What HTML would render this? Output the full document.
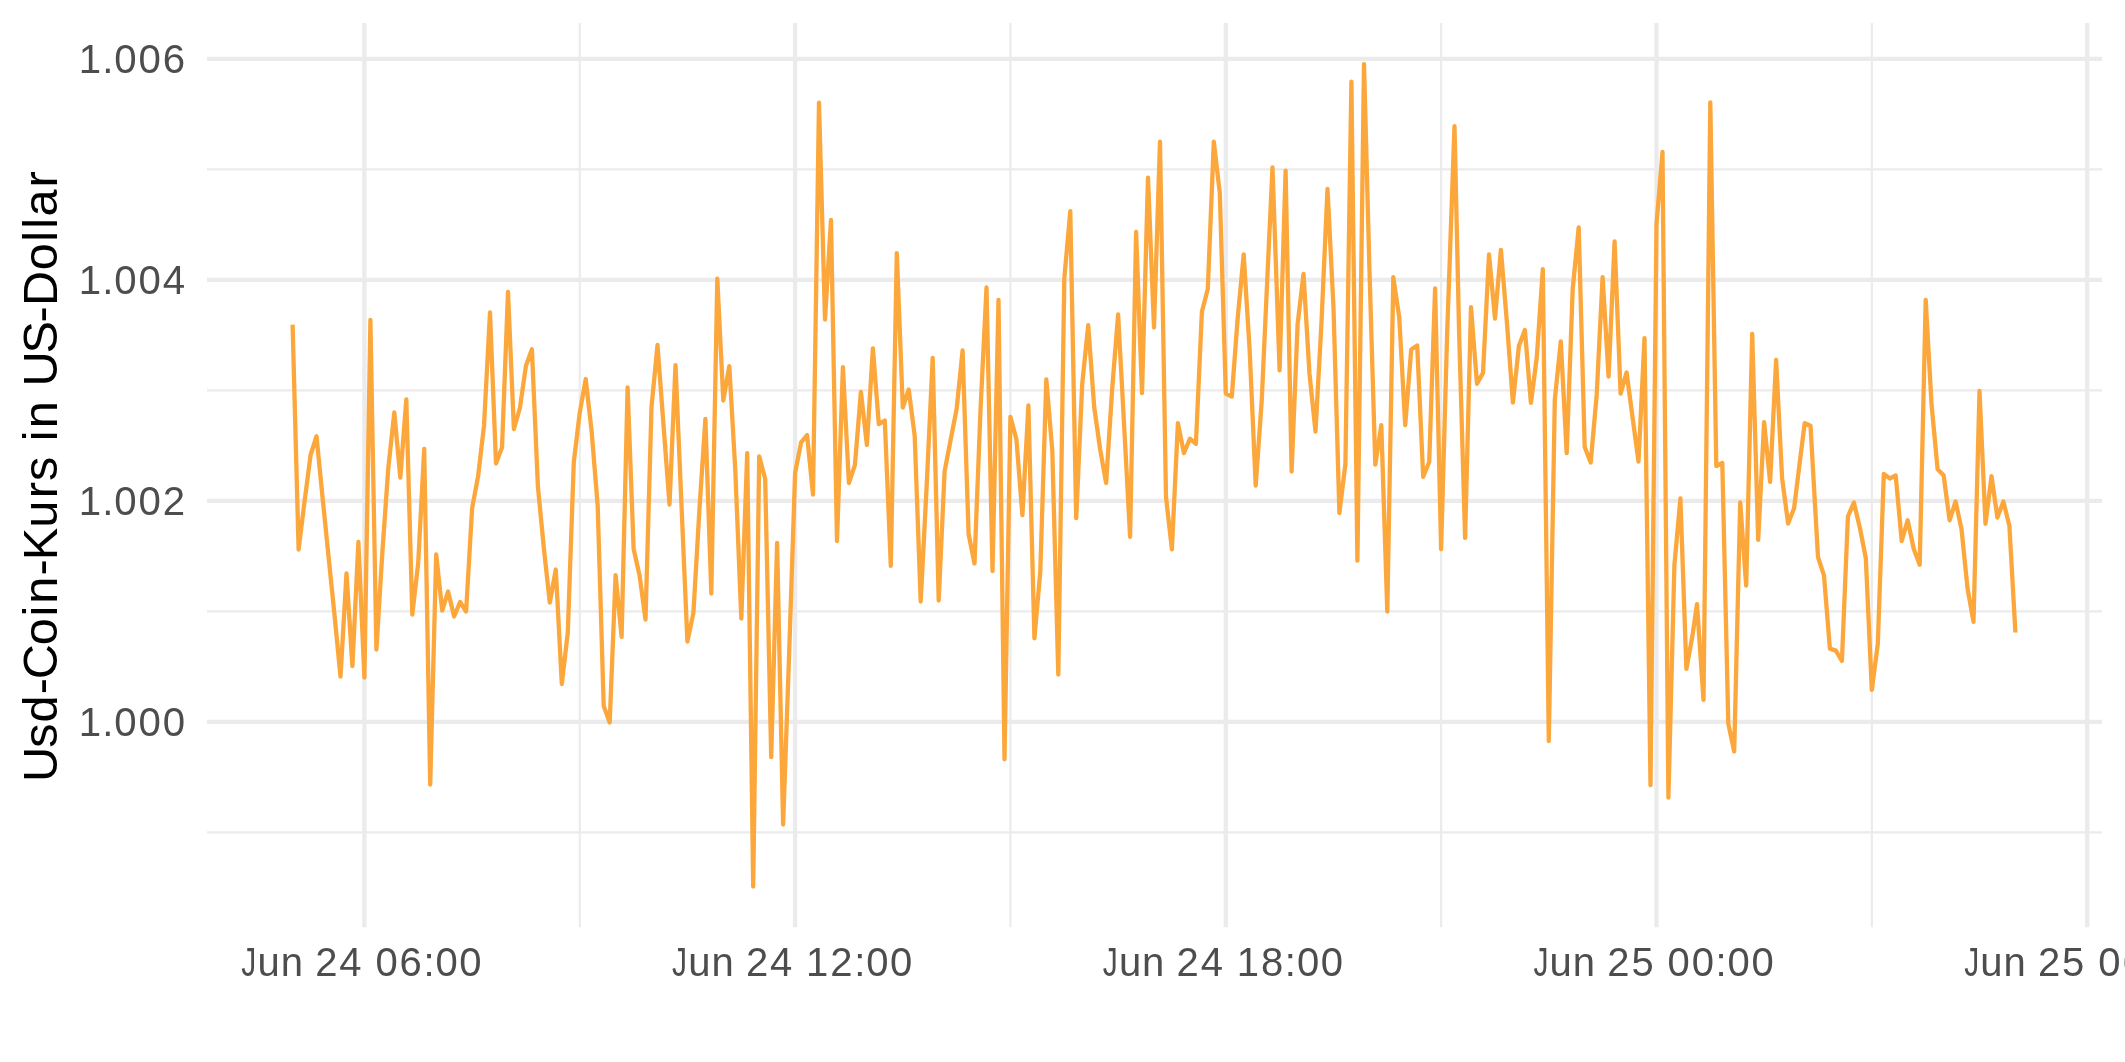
<!DOCTYPE html>
<html><head><meta charset="utf-8"><style>
html,body{margin:0;padding:0;background:#fff;width:2125px;height:1062px;overflow:hidden}
svg{position:absolute;left:0;top:0;font-family:"Liberation Sans",sans-serif}
#txt{will-change:transform}
</style></head><body>
<svg width="2125" height="1062" viewBox="0 0 2125 1062">
<rect width="2125" height="1062" fill="#fff"/>
<line x1="207.0" y1="169.4" x2="2102.0" y2="169.4" stroke="#EBEBEB" stroke-width="2.15"/>
<line x1="207.0" y1="390.4" x2="2102.0" y2="390.4" stroke="#EBEBEB" stroke-width="2.15"/>
<line x1="207.0" y1="611.4" x2="2102.0" y2="611.4" stroke="#EBEBEB" stroke-width="2.15"/>
<line x1="207.0" y1="832.4" x2="2102.0" y2="832.4" stroke="#EBEBEB" stroke-width="2.15"/>
<line x1="579.75" y1="22.9" x2="579.75" y2="927.3" stroke="#EBEBEB" stroke-width="2.15"/>
<line x1="1010.45" y1="22.9" x2="1010.45" y2="927.3" stroke="#EBEBEB" stroke-width="2.15"/>
<line x1="1441.15" y1="22.9" x2="1441.15" y2="927.3" stroke="#EBEBEB" stroke-width="2.15"/>
<line x1="1871.85" y1="22.9" x2="1871.85" y2="927.3" stroke="#EBEBEB" stroke-width="2.15"/>
<line x1="207.0" y1="58.9" x2="2102.0" y2="58.9" stroke="#EBEBEB" stroke-width="4.3"/>
<line x1="207.0" y1="279.9" x2="2102.0" y2="279.9" stroke="#EBEBEB" stroke-width="4.3"/>
<line x1="207.0" y1="500.9" x2="2102.0" y2="500.9" stroke="#EBEBEB" stroke-width="4.3"/>
<line x1="207.0" y1="721.9" x2="2102.0" y2="721.9" stroke="#EBEBEB" stroke-width="4.3"/>
<line x1="364.4" y1="22.9" x2="364.4" y2="927.3" stroke="#EBEBEB" stroke-width="4.3"/>
<line x1="795.1" y1="22.9" x2="795.1" y2="927.3" stroke="#EBEBEB" stroke-width="4.3"/>
<line x1="1225.8" y1="22.9" x2="1225.8" y2="927.3" stroke="#EBEBEB" stroke-width="4.3"/>
<line x1="1656.5" y1="22.9" x2="1656.5" y2="927.3" stroke="#EBEBEB" stroke-width="4.3"/>
<line x1="2087.2" y1="22.9" x2="2087.2" y2="927.3" stroke="#EBEBEB" stroke-width="4.3"/>
<polyline points="292.6,324.6 298.6,549.5 304.6,501.0 310.6,455.0 316.5,436.2 322.5,497.0 328.5,556.0 334.5,615.0 340.5,676.5 346.5,573.5 352.4,666.0 358.4,542.0 364.4,677.5 370.4,320.0 376.4,649.5 382.3,553.0 388.3,468.0 394.3,412.5 400.3,477.5 406.3,399.5 412.3,614.5 418.2,563.0 424.2,449.0 430.2,784.5 436.2,554.5 442.2,610.5 448.1,591.5 454.1,616.5 460.1,602.0 466.1,611.5 472.1,508.3 478.1,476.2 484.0,425.7 490.0,312.5 496.0,463.5 502.0,447.5 508.0,292.0 513.9,429.0 519.9,408.0 525.9,366.0 531.9,349.2 537.9,486.6 543.9,548.7 549.8,602.5 555.8,569.5 561.8,684.0 567.8,632.6 573.8,462.0 579.7,413.0 585.7,379.0 591.7,432.0 597.7,506.0 603.7,706.0 609.7,722.5 615.6,575.1 621.6,636.9 627.6,387.5 633.6,548.7 639.6,575.7 645.5,619.5 651.5,407.0 657.5,345.0 663.5,425.0 669.5,504.5 675.5,365.1 681.4,503.0 687.4,641.5 693.4,612.9 699.4,510.0 705.4,419.0 711.3,593.5 717.3,278.7 723.3,400.5 729.3,366.2 735.3,470.0 741.3,618.5 747.2,453.2 753.2,886.5 759.2,456.3 765.2,479.0 771.2,757.2 777.1,543.0 783.1,824.5 789.1,655.0 795.1,473.0 801.1,442.3 807.1,435.1 813.0,494.5 819.0,102.7 825.0,319.5 831.0,220.0 837.0,541.0 842.9,367.2 848.9,483.0 854.9,465.1 860.9,392.0 866.9,444.9 872.9,348.5 878.8,424.2 884.8,420.5 890.8,565.8 896.8,253.1 902.8,407.5 908.7,389.5 914.7,436.1 920.7,601.5 926.7,485.0 932.7,357.9 938.7,600.5 944.6,471.3 950.6,440.0 956.6,409.2 962.6,350.5 968.6,534.0 974.5,563.5 980.5,410.0 986.5,287.5 992.5,571.0 998.5,299.9 1004.5,759.3 1010.4,416.9 1016.4,439.2 1022.4,515.1 1028.4,405.5 1034.4,638.3 1040.3,571.5 1046.3,379.5 1052.3,450.6 1058.3,674.5 1064.3,278.6 1070.3,211.1 1076.2,518.2 1082.2,384.3 1088.2,325.1 1094.2,407.1 1100.2,449.6 1106.1,483.0 1112.1,390.0 1118.1,314.5 1124.1,425.0 1130.1,536.8 1136.1,232.0 1142.0,393.1 1148.0,177.7 1154.0,327.5 1160.0,141.7 1166.0,497.0 1171.9,549.3 1177.9,423.1 1183.9,453.2 1189.9,438.7 1195.9,443.8 1201.9,311.8 1207.8,289.0 1213.8,141.7 1219.8,193.0 1225.8,393.5 1231.8,396.5 1237.7,318.0 1243.7,254.5 1249.7,351.2 1255.7,485.7 1261.7,401.0 1267.7,270.0 1272.5,167.5 1279.6,370.3 1285.6,170.7 1291.6,471.5 1297.6,324.2 1303.5,274.0 1309.5,374.0 1315.5,431.5 1321.5,322.2 1327.5,188.9 1333.5,307.6 1339.4,513.0 1345.4,464.0 1351.4,81.6 1357.4,560.7 1364.0,64.1 1369.3,264.0 1375.3,464.6 1381.3,425.2 1387.3,611.5 1393.3,277.1 1399.3,318.0 1405.2,425.2 1411.2,349.5 1417.2,345.5 1423.2,476.8 1429.2,462.0 1435.1,288.5 1441.1,549.3 1447.1,335.0 1454.5,126.1 1459.1,332.0 1465.1,537.9 1471.0,307.1 1477.0,383.8 1483.0,372.9 1489.0,254.5 1495.0,318.5 1500.9,249.8 1506.9,322.2 1512.9,402.5 1518.9,346.0 1524.9,329.9 1530.9,402.9 1536.8,357.4 1542.8,269.1 1548.8,741.0 1554.8,399.8 1560.8,341.3 1566.7,453.2 1572.7,289.0 1578.7,227.5 1584.7,447.0 1590.7,462.5 1596.7,394.7 1602.6,277.1 1608.6,376.5 1614.6,241.5 1620.6,393.7 1626.6,372.4 1632.5,417.0 1638.5,461.5 1644.5,338.2 1650.5,785.2 1656.5,224.0 1662.5,152.0 1668.4,797.7 1674.4,565.3 1680.4,498.5 1686.4,668.8 1692.4,636.0 1697.0,604.1 1703.5,699.9 1710.3,102.3 1716.3,466.0 1722.3,463.0 1728.3,723.6 1734.2,751.5 1740.2,502.5 1746.2,585.5 1752.2,334.0 1758.2,539.9 1764.1,422.1 1770.1,481.9 1776.1,359.9 1782.1,478.3 1788.1,523.5 1794.1,508.3 1799.3,466.0 1804.7,423.1 1810.5,425.7 1818.0,557.0 1824.0,575.7 1829.9,648.6 1835.9,650.6 1841.9,661.0 1847.9,516.6 1853.9,502.5 1859.9,528.0 1865.8,558.0 1871.8,689.9 1877.8,644.0 1883.8,474.0 1889.8,478.5 1895.7,475.5 1901.7,541.0 1907.7,520.2 1913.7,548.7 1919.7,564.8 1925.7,299.9 1931.6,405.0 1937.6,469.2 1943.6,475.3 1949.6,520.3 1955.6,501.5 1961.5,529.0 1967.5,588.1 1973.5,622.0 1979.5,391.0 1985.5,523.8 1991.5,476.2 1997.4,517.5 2003.4,501.5 2009.4,526.0 2015.4,632.5" fill="none" stroke="#FCA73B" stroke-width="4.3" stroke-linejoin="round" stroke-linecap="butt"/>
</svg>
<svg id="txt" width="2125" height="1062" viewBox="0 0 2125 1062">
<text x="89.90" y="72.50" text-anchor="middle" font-size="40.2" fill="#4D4D4D">1</text>
<text x="107.90" y="72.50" text-anchor="middle" font-size="40.2" fill="#4D4D4D">.</text>
<text x="125.50" y="72.50" text-anchor="middle" font-size="40.2" fill="#4D4D4D">0</text>
<text x="149.60" y="72.50" text-anchor="middle" font-size="40.2" fill="#4D4D4D">0</text>
<text x="173.90" y="72.50" text-anchor="middle" font-size="40.2" fill="#4D4D4D">6</text>
<text x="89.90" y="293.50" text-anchor="middle" font-size="40.2" fill="#4D4D4D">1</text>
<text x="107.90" y="293.50" text-anchor="middle" font-size="40.2" fill="#4D4D4D">.</text>
<text x="125.50" y="293.50" text-anchor="middle" font-size="40.2" fill="#4D4D4D">0</text>
<text x="149.60" y="293.50" text-anchor="middle" font-size="40.2" fill="#4D4D4D">0</text>
<text x="173.90" y="293.50" text-anchor="middle" font-size="40.2" fill="#4D4D4D">4</text>
<text x="89.90" y="514.50" text-anchor="middle" font-size="40.2" fill="#4D4D4D">1</text>
<text x="107.90" y="514.50" text-anchor="middle" font-size="40.2" fill="#4D4D4D">.</text>
<text x="125.50" y="514.50" text-anchor="middle" font-size="40.2" fill="#4D4D4D">0</text>
<text x="149.60" y="514.50" text-anchor="middle" font-size="40.2" fill="#4D4D4D">0</text>
<text x="173.90" y="514.50" text-anchor="middle" font-size="40.2" fill="#4D4D4D">2</text>
<text x="89.90" y="735.50" text-anchor="middle" font-size="40.2" fill="#4D4D4D">1</text>
<text x="107.90" y="735.50" text-anchor="middle" font-size="40.2" fill="#4D4D4D">.</text>
<text x="125.50" y="735.50" text-anchor="middle" font-size="40.2" fill="#4D4D4D">0</text>
<text x="149.60" y="735.50" text-anchor="middle" font-size="40.2" fill="#4D4D4D">0</text>
<text x="173.90" y="735.50" text-anchor="middle" font-size="40.2" fill="#4D4D4D">0</text>
<text x="0" y="0" text-anchor="middle" font-size="40" fill="#4D4D4D" transform="translate(248.85 976.0) scale(0.75 1)">J</text>
<text x="268.60" y="976.0" text-anchor="middle" font-size="40" fill="#4D4D4D">u</text>
<text x="291.80" y="976.0" text-anchor="middle" font-size="40" fill="#4D4D4D">n</text>
<text x="326.30" y="976.0" text-anchor="middle" font-size="40" fill="#4D4D4D">2</text>
<text x="350.40" y="976.0" text-anchor="middle" font-size="40" fill="#4D4D4D">4</text>
<text x="386.50" y="976.0" text-anchor="middle" font-size="40" fill="#4D4D4D">0</text>
<text x="410.70" y="976.0" text-anchor="middle" font-size="40" fill="#4D4D4D">6</text>
<text x="429.00" y="976.0" text-anchor="middle" font-size="40" fill="#4D4D4D">:</text>
<text x="446.60" y="976.0" text-anchor="middle" font-size="40" fill="#4D4D4D">0</text>
<text x="470.45" y="976.0" text-anchor="middle" font-size="40" fill="#4D4D4D">0</text>
<text x="0" y="0" text-anchor="middle" font-size="40" fill="#4D4D4D" transform="translate(679.55 976.0) scale(0.75 1)">J</text>
<text x="699.30" y="976.0" text-anchor="middle" font-size="40" fill="#4D4D4D">u</text>
<text x="722.50" y="976.0" text-anchor="middle" font-size="40" fill="#4D4D4D">n</text>
<text x="757.00" y="976.0" text-anchor="middle" font-size="40" fill="#4D4D4D">2</text>
<text x="781.10" y="976.0" text-anchor="middle" font-size="40" fill="#4D4D4D">4</text>
<text x="817.20" y="976.0" text-anchor="middle" font-size="40" fill="#4D4D4D">1</text>
<text x="841.40" y="976.0" text-anchor="middle" font-size="40" fill="#4D4D4D">2</text>
<text x="859.70" y="976.0" text-anchor="middle" font-size="40" fill="#4D4D4D">:</text>
<text x="877.30" y="976.0" text-anchor="middle" font-size="40" fill="#4D4D4D">0</text>
<text x="901.15" y="976.0" text-anchor="middle" font-size="40" fill="#4D4D4D">0</text>
<text x="0" y="0" text-anchor="middle" font-size="40" fill="#4D4D4D" transform="translate(1110.25 976.0) scale(0.75 1)">J</text>
<text x="1130.00" y="976.0" text-anchor="middle" font-size="40" fill="#4D4D4D">u</text>
<text x="1153.20" y="976.0" text-anchor="middle" font-size="40" fill="#4D4D4D">n</text>
<text x="1187.70" y="976.0" text-anchor="middle" font-size="40" fill="#4D4D4D">2</text>
<text x="1211.80" y="976.0" text-anchor="middle" font-size="40" fill="#4D4D4D">4</text>
<text x="1247.90" y="976.0" text-anchor="middle" font-size="40" fill="#4D4D4D">1</text>
<text x="1272.10" y="976.0" text-anchor="middle" font-size="40" fill="#4D4D4D">8</text>
<text x="1290.40" y="976.0" text-anchor="middle" font-size="40" fill="#4D4D4D">:</text>
<text x="1308.00" y="976.0" text-anchor="middle" font-size="40" fill="#4D4D4D">0</text>
<text x="1331.85" y="976.0" text-anchor="middle" font-size="40" fill="#4D4D4D">0</text>
<text x="0" y="0" text-anchor="middle" font-size="40" fill="#4D4D4D" transform="translate(1540.95 976.0) scale(0.75 1)">J</text>
<text x="1560.70" y="976.0" text-anchor="middle" font-size="40" fill="#4D4D4D">u</text>
<text x="1583.90" y="976.0" text-anchor="middle" font-size="40" fill="#4D4D4D">n</text>
<text x="1618.40" y="976.0" text-anchor="middle" font-size="40" fill="#4D4D4D">2</text>
<text x="1642.50" y="976.0" text-anchor="middle" font-size="40" fill="#4D4D4D">5</text>
<text x="1678.60" y="976.0" text-anchor="middle" font-size="40" fill="#4D4D4D">0</text>
<text x="1702.80" y="976.0" text-anchor="middle" font-size="40" fill="#4D4D4D">0</text>
<text x="1721.10" y="976.0" text-anchor="middle" font-size="40" fill="#4D4D4D">:</text>
<text x="1738.70" y="976.0" text-anchor="middle" font-size="40" fill="#4D4D4D">0</text>
<text x="1762.55" y="976.0" text-anchor="middle" font-size="40" fill="#4D4D4D">0</text>
<text x="0" y="0" text-anchor="middle" font-size="40" fill="#4D4D4D" transform="translate(1971.65 976.0) scale(0.75 1)">J</text>
<text x="1991.40" y="976.0" text-anchor="middle" font-size="40" fill="#4D4D4D">u</text>
<text x="2014.60" y="976.0" text-anchor="middle" font-size="40" fill="#4D4D4D">n</text>
<text x="2049.10" y="976.0" text-anchor="middle" font-size="40" fill="#4D4D4D">2</text>
<text x="2073.20" y="976.0" text-anchor="middle" font-size="40" fill="#4D4D4D">5</text>
<text x="2109.30" y="976.0" text-anchor="middle" font-size="40" fill="#4D4D4D">0</text>
<text x="2133.50" y="976.0" text-anchor="middle" font-size="40" fill="#4D4D4D">6</text>
<g transform="translate(56.9 0) rotate(-90)"><text x="-764.38" y="0" text-anchor="middle" font-size="48.7" fill="#000">U</text><text x="-735.57" y="0" text-anchor="middle" font-size="48.7" fill="#000">s</text><text x="-708.99" y="0" text-anchor="middle" font-size="48.7" fill="#000">d</text><text x="-686.09" y="0" text-anchor="middle" font-size="48.7" fill="#000">-</text><text x="-661.73" y="0" text-anchor="middle" font-size="48.7" fill="#000">C</text><text x="-631.60" y="0" text-anchor="middle" font-size="48.7" fill="#000">o</text><text x="-611.14" y="0" text-anchor="middle" font-size="48.7" fill="#000">i</text><text x="-590.17" y="0" text-anchor="middle" font-size="48.7" fill="#000">n</text><text x="-567.29" y="0" text-anchor="middle" font-size="48.7" fill="#000">-</text><text x="-543.91" y="0" text-anchor="middle" font-size="48.7" fill="#000">K</text><text x="-514.25" y="0" text-anchor="middle" font-size="48.7" fill="#000">u</text><text x="-490.22" y="0" text-anchor="middle" font-size="48.7" fill="#000">r</text><text x="-468.78" y="0" text-anchor="middle" font-size="48.7" fill="#000">s</text><text x="-435.78" y="0" text-anchor="middle" font-size="48.7" fill="#000">i</text><text x="-414.82" y="0" text-anchor="middle" font-size="48.7" fill="#000">n</text><text x="-368.79" y="0" text-anchor="middle" font-size="48.7" fill="#000">U</text><text x="-337.37" y="0" text-anchor="middle" font-size="48.7" fill="#000">S</text><text x="-314.47" y="0" text-anchor="middle" font-size="48.7" fill="#000">-</text><text x="-288.46" y="0" text-anchor="middle" font-size="48.7" fill="#000">D</text><text x="-256.68" y="0" text-anchor="middle" font-size="48.7" fill="#000">o</text><text x="-236.22" y="0" text-anchor="middle" font-size="48.7" fill="#000">l</text><text x="-223.44" y="0" text-anchor="middle" font-size="48.7" fill="#000">l</text><text x="-202.95" y="0" text-anchor="middle" font-size="48.7" fill="#000">a</text><text x="-179.40" y="0" text-anchor="middle" font-size="48.7" fill="#000">r</text></g>
</svg>
</body></html>
